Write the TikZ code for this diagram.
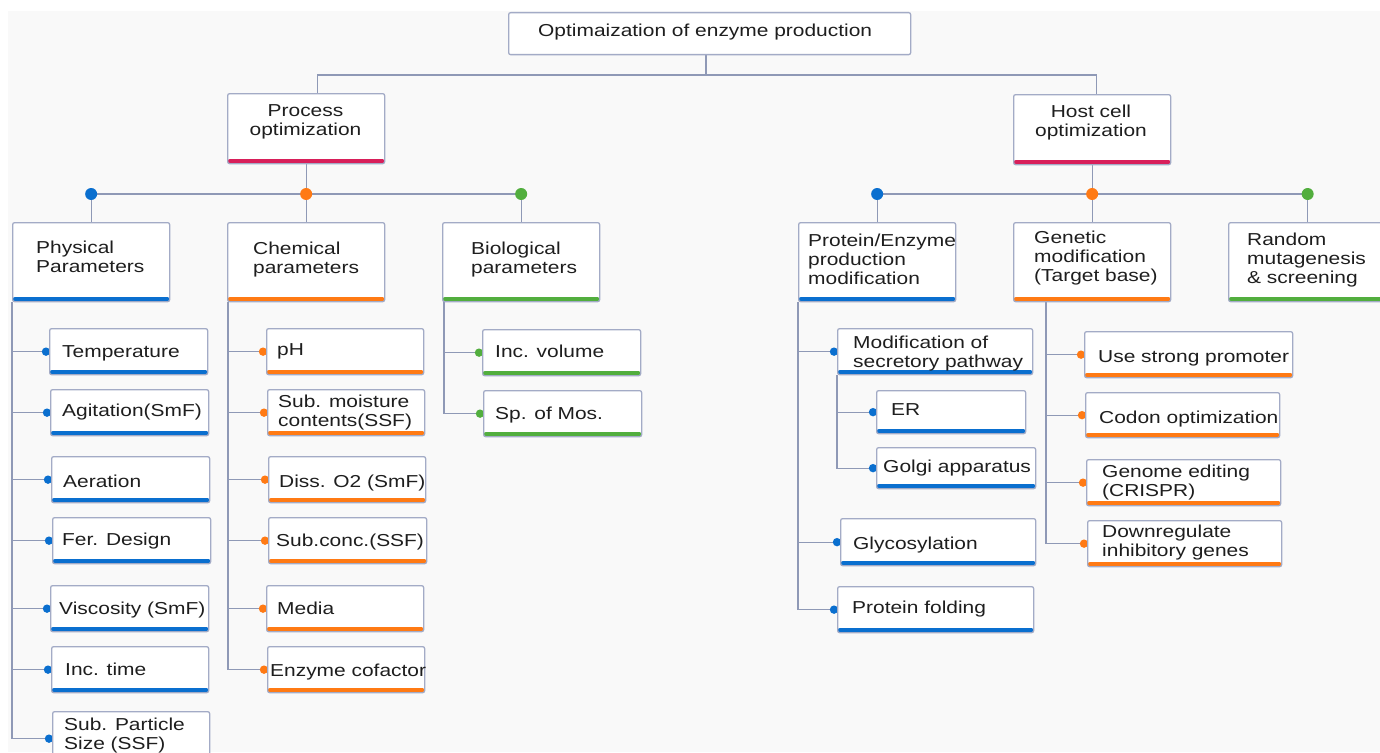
\documentclass[tikz,border=0pt]{standalone}
\usepackage{fontspec}
\setmainfont[FakeStretch=1.21]{Liberation Sans}
\usetikzlibrary{calc}
\definecolor{cblue}{HTML}{0A6FCF}
\definecolor{corange}{HTML}{FF7A14}
\definecolor{cgreen}{HTML}{52AE3E}
\definecolor{cpink}{HTML}{D81F5A}
\definecolor{cline}{HTML}{8F99B6}
\definecolor{cborder}{HTML}{A3ABC6}
\definecolor{cbg}{HTML}{F9F9F9}
\definecolor{ctext}{HTML}{1E1E1E}
\pgfdeclarelayer{bg}
\pgfdeclarelayer{conn}
\pgfsetlayers{bg,conn,main}
\tikzset{
  plainbox/.style={draw=cborder, line width=1.3pt, fill=white, rounded corners=2pt,
    inner sep=0pt, anchor=north west},
  bx/.style={plainbox, path picture={\fill[#1] ([yshift=4.5pt]path picture bounding box.south west) rectangle (path picture bounding box.south east);}},
  txt/.style={font=\fontsize{17.3}{19}\selectfont, inner sep=0pt, align=left, text=ctext},
  ln/.style={draw=cline, line width=1.3pt},
}
% #3 = baseline of the LAST line
\newcommand\bx[6]{\node[bx=#6, minimum width={(#4-#2)*1pt}, minimum height={(#5-#3)*1pt}] (#1) at (#2,#3) {};}
\newcommand\tx[4]{\node[txt, anchor=base west] (#1) at (#2,#3) {#4};}
\newcommand\ldot[2]{\fill[#1] ([xshift=-3pt]#2.west) circle (4.2);}
\begin{document}
\begin{tikzpicture}[x=1pt,y=-1pt]
\useasboundingbox (0,0) rectangle (1380,752);
\begin{pgfonlayer}{bg}
\fill[white] (0,0) rectangle (1380,752);
\fill[cbg] (8,11) rectangle (1380,752);
\end{pgfonlayer}

% top
\node[plainbox, minimum width=402pt, minimum height=42pt] (top) at (508,12) {};
\tx{top-t}{538}{37}{Optimaization of enzyme production}

% level 1
\bx{proc}{227}{93}{384}{163}{cpink}
\node[txt, align=center, anchor=base] (proc-t) at (305.5,135) {Process\\optimization};
\bx{host}{1013}{94}{1170}{164}{cpink}
\node[txt, align=center, anchor=base] (host-t) at (1091,136) {Host cell\\optimization};

% level 2
\bx{phys}{12}{222}{169}{301}{cblue}
\tx{phys-t}{36}{272}{Physical\\Parameters}
\bx{chem}{227}{222}{384}{301}{corange}
\tx{chem-t}{253}{273}{Chemical\\parameters}
\bx{bio}{442}{222}{599}{301}{cgreen}
\tx{bio-t}{471}{273}{Biological\\parameters}
\bx{prot}{798}{222}{955}{301}{cblue}
\tx{prot-t}{808}{284}{Protein/Enzyme\\production\\modification}
\bx{gen}{1013}{222}{1170}{301}{corange}
\tx{gen-t}{1034}{281.5}{Genetic\\modification\\(Target base)}
\bx{rand}{1228}{222}{1386}{301}{cgreen}
\tx{rand-t}{1247}{283}{Random\\mutagenesis\\\& screening}

% physical leaves
\bx{temp}{49}{328}{207}{374}{cblue}
\tx{temp-t}{62}{357}{Temperature}
\bx{agit}{50}{389}{208}{435}{cblue}
\tx{agit-t}{62}{416}{Agitation(SmF)}
\bx{aer}{51}{456}{209}{502}{cblue}
\tx{aer-t}{63}{487}{Aeration}
\bx{fer}{52}{517}{210}{563}{cblue}
\tx{fer-t}{62}{545}{Fer. Design}
\bx{visc}{50}{585}{208}{631}{cblue}
\tx{visc-t}{59}{614}{Viscosity (SmF)}
\bx{inct}{51}{646}{208}{692}{cblue}
\tx{inct-t}{65}{675}{Inc. time}
\bx{subp}{52}{711}{209}{765}{cblue}
\tx{subp-t}{64}{749}{Sub. Particle\\Size (SSF)}

% chemical leaves
\bx{ph}{266}{328}{423}{374}{corange}
\tx{ph-t}{277}{355}{pH}
\bx{moist}{267}{389}{424}{435}{corange}
\tx{moist-t}{278}{426}{Sub. moisture\\contents(SSF)}
\bx{diss}{268}{456}{425}{502}{corange}
\tx{diss-t}{279}{487}{Diss. O2 (SmF)}
\bx{conc}{268}{517}{426}{563}{corange}
\tx{conc-t}{276}{546}{Sub.conc.(SSF)}
\bx{media}{266}{585}{423}{631}{corange}
\tx{media-t}{277}{614}{Media}
\bx{cof}{267}{646}{424}{692}{corange}
\tx{cof-t}{270}{676}{Enzyme cofactor}

% biological leaves
\bx{incv}{482}{329}{640}{375}{cgreen}
\tx{incv-t}{495}{357}{Inc. volume}
\bx{spm}{483}{390}{641}{436}{cgreen}
\tx{spm-t}{495}{419}{Sp. of Mos.}

% protein leaves
\bx{mod}{837}{328}{1032}{374}{cblue}
\tx{mod-t}{853}{367}{Modification of\\secretory pathway}
\bx{er}{876}{390}{1025}{433}{cblue}
\tx{er-t}{891}{415}{ER}
\bx{golgi}{876}{447}{1035}{488}{cblue}
\tx{golgi-t}{883}{472}{Golgi apparatus}
\bx{glyc}{840}{518}{1035}{565}{cblue}
\tx{glyc-t}{853}{549}{Glycosylation}
\bx{fold}{837}{586}{1033}{632}{cblue}
\tx{fold-t}{852}{613}{Protein folding}

% genetic leaves
\bx{prom}{1084}{331}{1292}{377}{corange}
\tx{prom-t}{1098}{362}{Use strong promoter}
\bx{codon}{1085}{392}{1279}{437}{corange}
\tx{codon-t}{1099}{423}{Codon optimization}
\bx{crispr}{1086}{459}{1280}{505}{corange}
\tx{crispr-t}{1102}{496}{Genome editing\\(CRISPR)}
\bx{down}{1087}{520}{1281}{566}{corange}
\tx{down-t}{1102}{556}{Downregulate\\inhibitory genes}

% connectors
\begin{pgfonlayer}{conn}
\coordinate (tj) at (706,75);
\coordinate (py) at (0,194);
\draw[ln] (top.south -| tj) -- (tj);
\draw[ln] ([xshift=11.5pt]proc.north) |- (tj) -| ([xshift=4.5pt]host.north);

\draw[ln] (proc.south) -- (chem.north);
\draw[ln] (phys.north) -- (phys.north |- py) -- (bio.north |- py) -- (bio.north);
\fill[cblue] (phys.north |- py) circle (6);
\fill[corange] (chem.north |- py) circle (6);
\fill[cgreen] (bio.north |- py) circle (6);

\draw[ln] (host.south) -- (gen.north);
\draw[ln] (prot.north) -- (prot.north |- py) -- (rand.north |- py) -- (rand.north);
\fill[cblue] (prot.north |- py) circle (6);
\fill[corange] (gen.north |- py) circle (6);
\fill[cgreen] (rand.north |- py) circle (6);

% physical trunk
\draw[ln] (phys.south west) |- (subp.west);
\foreach \n in {temp,agit,aer,fer,visc,inct}
  \draw[ln] (phys.south west |- \n.west) -- (\n.west);
\foreach \n in {temp,agit,aer,fer,visc,inct,subp}
  \ldot{cblue}{\n};

% chemical trunk
\draw[ln] ([xshift=1pt]chem.south west) |- (cof.west);
\foreach \n in {ph,moist,diss,conc,media}
  \draw[ln] ([xshift=1pt]chem.south west |- \n.west) -- (\n.west);
\foreach \n in {ph,moist,diss,conc,media,cof}
  \ldot{corange}{\n};

% biological trunk
\draw[ln] ([xshift=2pt]bio.south west) |- (spm.west);
\draw[ln] ([xshift=2pt]bio.south west |- incv.west) -- (incv.west);
\foreach \n in {incv,spm}
  \ldot{cgreen}{\n};

% protein trunk
\draw[ln] (prot.south west) |- (fold.west);
\foreach \n in {mod,glyc}
  \draw[ln] (prot.south west |- \n.west) -- (\n.west);
\draw[ln] (mod.south west) |- (golgi.west);
\draw[ln] (mod.south west |- er.west) -- (er.west);
\foreach \n in {mod,er,golgi,glyc,fold}
  \ldot{cblue}{\n};

% genetic trunk
\coordinate (gt) at (1046,301);
\draw[ln] (gt) |- (down.west);
\foreach \n in {prom,codon,crispr}
  \draw[ln] (gt |- \n.west) -- (\n.west);
\foreach \n in {prom,codon,crispr,down}
  \ldot{corange}{\n};
\end{pgfonlayer}
\end{tikzpicture}
\end{document}
